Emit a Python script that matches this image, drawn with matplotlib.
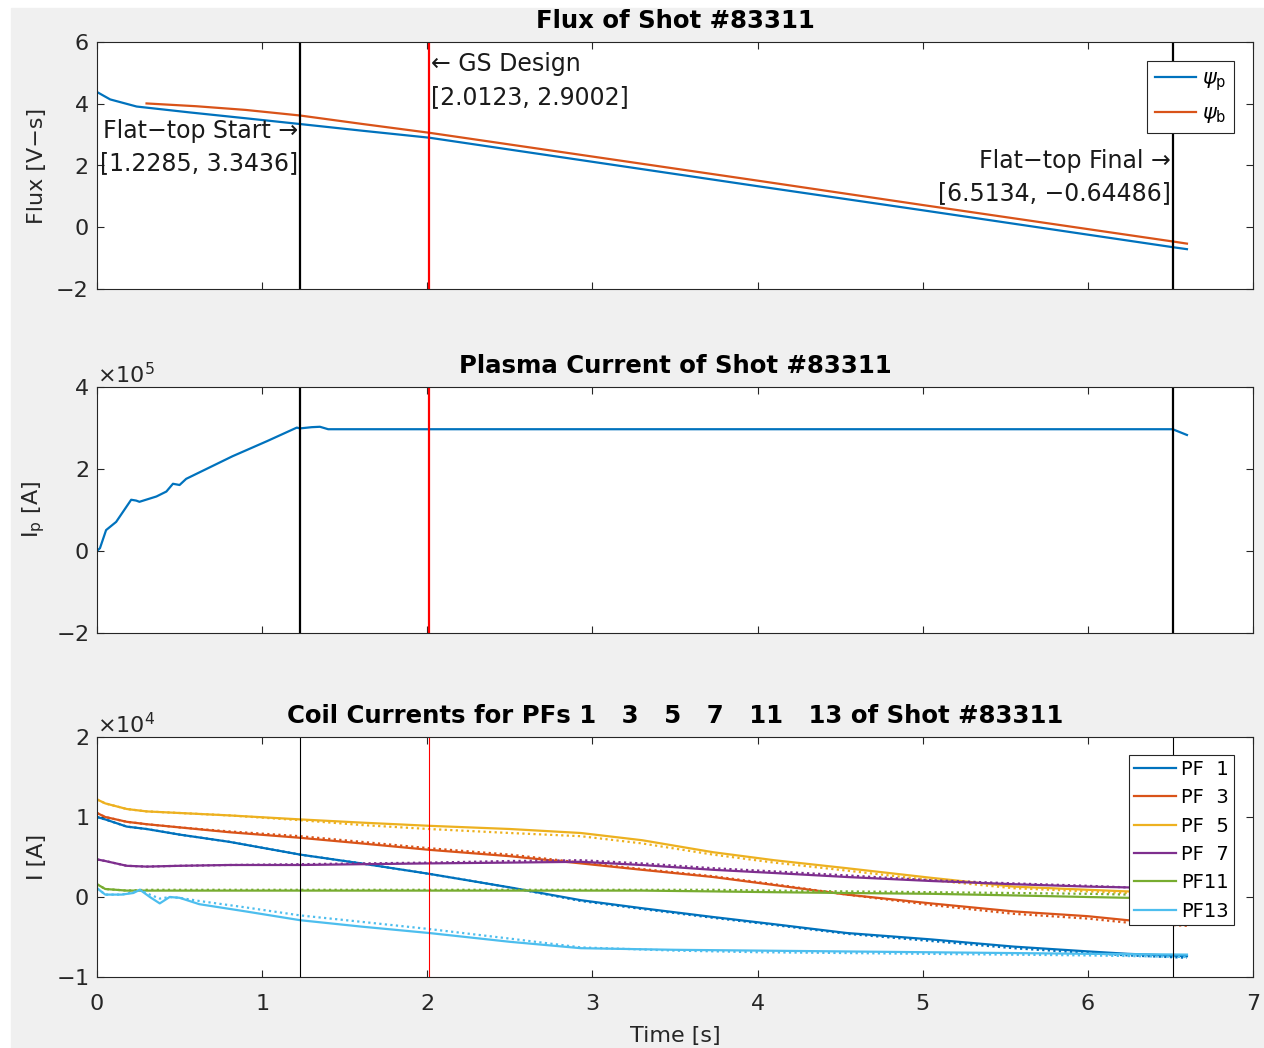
import numpy as np
import matplotlib
matplotlib.use("Agg")
import matplotlib.pyplot as plt
from matplotlib.patches import Rectangle
from matplotlib.ticker import ScalarFormatter

# ---- data -------------------------------------------------------------
shot = "83311"

t_flat_start, psi_flat_start = 1.2285, 3.3436
t_gs, psi_gs = 2.0123, 2.9002
t_flat_end, psi_flat_end = 6.5134, -0.64486

# poloidal flux [V-s]
t_psi_p = [0.0, 0.08, 0.24, 0.56, 0.9, 1.2285, 1.6, 2.0123, 3.0, 4.0, 5.0, 6.0, 6.5134, 6.6]
psi_p = [4.38, 4.14, 3.91, 3.72, 3.53, 3.3436, 3.13, 2.9002, 2.12, 1.33, 0.55, -0.24, -0.64486, -0.71]

t_psi_b = [0.3, 0.6, 0.9, 1.2285, 1.6, 2.0123, 3.0, 4.0, 5.0, 6.0, 6.5134, 6.6]
psi_b = [4.01, 3.92, 3.80, 3.62, 3.35, 3.06, 2.29, 1.51, 0.72, -0.06, -0.46, -0.53]

# plasma current [A]
t_ip = [0.0, 0.018, 0.055, 0.116, 0.207, 0.237, 0.257, 0.36, 0.42, 0.46, 0.50, 0.54,
        0.82, 1.03, 1.21, 1.2285, 1.3, 1.35, 1.4, 6.5134, 6.6]
ip = [0.0, 0.07e5, 0.51e5, 0.71e5, 1.25e5, 1.23e5, 1.20e5, 1.33e5, 1.45e5, 1.64e5, 1.61e5, 1.76e5,
      2.31e5, 2.68e5, 3.01e5, 2.99e5, 3.02e5, 3.03e5, 2.97e5, 2.97e5, 2.83e5]

# coil currents [x1e4 A]: measured (solid) and requested (dotted)
t_coil = [0, 0.05, 0.18, 0.3, 0.5, 0.8, 1.23, 1.6, 2.01, 2.5, 2.93, 3.3, 3.73, 4.1,
          4.54, 5.05, 5.55, 6.0, 6.24, 6.6]
pf1 = [1.0, 0.97, 0.88, 0.85, 0.78, 0.69, 0.53, 0.42, 0.29, 0.12, -0.04, -0.14, -0.25, -0.34,
       -0.45, -0.53, -0.62, -0.68, -0.71, -0.74]
pf1_ref = [1.0, 0.97, 0.88, 0.85, 0.78, 0.69, 0.53, 0.42, 0.29, 0.12, -0.05, -0.15, -0.26, -0.35,
           -0.46, -0.55, -0.64, -0.70, -0.73, -0.76]
pf3 = [1.05, 1.0, 0.94, 0.91, 0.87, 0.81, 0.74, 0.67, 0.59, 0.51, 0.42, 0.34, 0.25, 0.15,
       0.03, -0.08, -0.18, -0.24, -0.29, -0.33]
pf3_ref = [1.05, 1.0, 0.94, 0.91, 0.87, 0.82, 0.76, 0.69, 0.61, 0.53, 0.43, 0.35, 0.26, 0.16,
           0.03, -0.10, -0.21, -0.27, -0.32, -0.36]
pf5 = [1.22, 1.17, 1.10, 1.07, 1.05, 1.02, 0.97, 0.93, 0.89, 0.85, 0.80, 0.71, 0.56, 0.46,
       0.36, 0.24, 0.13, 0.09, 0.07, 0.03]
pf5_ref = [1.22, 1.17, 1.10, 1.07, 1.05, 1.02, 0.96, 0.90, 0.85, 0.80, 0.76, 0.67, 0.53, 0.43,
           0.33, 0.21, 0.11, 0.07, 0.05, 0.01]
pf7 = [0.47, 0.45, 0.39, 0.38, 0.39, 0.40, 0.40, 0.41, 0.42, 0.43, 0.44, 0.40, 0.34, 0.30,
       0.25, 0.20, 0.16, 0.13, 0.12, 0.10]
pf7_ref = [0.47, 0.45, 0.39, 0.38, 0.39, 0.40, 0.41, 0.42, 0.43, 0.45, 0.46, 0.42, 0.36, 0.32,
           0.27, 0.21, 0.17, 0.14, 0.12, 0.10]
pf11 = [0.16, 0.10, 0.08, 0.08, 0.08, 0.08, 0.08, 0.08, 0.08, 0.08, 0.08, 0.08, 0.07, 0.06,
        0.05, 0.04, 0.02, 0.0, -0.01, -0.02]
pf11_ref = [0.16, 0.10, 0.08, 0.09, 0.09, 0.09, 0.09, 0.09, 0.09, 0.09, 0.09, 0.09, 0.09, 0.08,
            0.07, 0.06, 0.05, 0.04, 0.03, 0.02]
t_pf13 = [0, 0.05, 0.15, 0.22, 0.26, 0.32, 0.38, 0.44, 0.5, 0.62, 0.9, 1.23, 1.6, 2.01, 2.5,
          2.93, 3.5, 4.0, 4.5, 5.0, 5.5, 6.0, 6.6]
pf13 = [0.11, 0.03, 0.03, 0.05, 0.09, 0.0, -0.08, 0.0, -0.01, -0.09, -0.18, -0.29, -0.37, -0.45,
        -0.56, -0.64, -0.66, -0.67, -0.68, -0.69, -0.70, -0.71, -0.72]
pf13_ref = [0.11, 0.03, 0.03, 0.06, 0.09, 0.03, -0.02, 0.0, -0.01, -0.05, -0.13, -0.23, -0.31,
            -0.40, -0.52, -0.63, -0.67, -0.69, -0.70, -0.71, -0.72, -0.73, -0.75]

coil_names = ["PF  1", "PF  3", "PF  5", "PF  7", "PF11", "PF13"]
coil_ids = [1, 3, 5, 7, 11, 13]

# ---- style ------------------------------------------------------------
C_BLUE, C_ORANGE, C_YELLOW = "#0072BD", "#D95319", "#EDB120"
C_PURPLE, C_GREEN, C_CYAN = "#7E2F8E", "#77AC30", "#4DBEEE"
AX_COL = "#262626"
FS = 16
FS_TITLE = 17.6
FS_NOTE = 17

plt.rcParams.update({
    "font.family": ["DejaVu Sans"],
    "font.size": FS,
    "axes.edgecolor": AX_COL,
    "axes.linewidth": 0.8,
    "xtick.color": AX_COL,
    "ytick.color": AX_COL,
    "xtick.labelcolor": AX_COL,
    "ytick.labelcolor": AX_COL,
    "xtick.direction": "in",
    "ytick.direction": "in",
    "xtick.top": True,
    "ytick.right": True,
    "xtick.major.size": 5,
    "ytick.major.size": 5,
    "xtick.major.width": 0.8,
    "ytick.major.width": 0.8,
    "xtick.labelsize": FS,
    "ytick.labelsize": FS,
    "axes.titlesize": FS_TITLE,
    "axes.titleweight": "bold",
    "axes.titlepad": 10,
})

W, H = 1264, 1048
fig = plt.figure(figsize=(W / 100, H / 100), dpi=100, facecolor="white")
fig.patches.append(Rectangle((11 / W, 0), 1 - 11 / W, (H - 8) / H,
                             transform=fig.transFigure, color="#f0f0f0", zorder=-10))


def axes_box(top_px, bottom_px):
    left, right = 97, 1253
    return [left / W, 1 - bottom_px / H, (right - left) / W, (bottom_px - top_px) / H]


ax1 = fig.add_axes(axes_box(42, 289))
ax2 = fig.add_axes(axes_box(387, 633))
ax3 = fig.add_axes(axes_box(737, 977))

for ax in (ax1, ax2, ax3):
    ax.set_xlim(0, 7)
    ax.set_xticks(range(0, 8))
    ax.tick_params(axis="y", pad=6)
    ax.tick_params(axis="x", pad=12)
for ax in (ax1, ax2):
    ax.tick_params(labelbottom=False)

ylabel_x = -0.043

# ---- flux -------------------------------------------------------------
ax1.plot(t_psi_p, psi_p, color=C_BLUE, lw=1.6, label=r"$\psi_{\rm p}$")
ax1.plot(t_psi_b, psi_b, color=C_ORANGE, lw=1.6, label=r"$\psi_{\rm b}$")
ax1.axvline(t_flat_start, color="black", lw=1.6)
ax1.axvline(t_gs, color="red", lw=1.6)
ax1.axvline(t_flat_end, color="black", lw=1.6)
ax1.set_ylim(-2, 6)
ax1.set_yticks([-2, 0, 2, 4, 6])
ax1.set_ylabel("Flux [V\u2212s]", color=AX_COL)
ax1.yaxis.set_label_coords(ylabel_x, 0.5)
ax1.set_title(f"Flux of Shot #{shot}")

ann = dict(fontsize=FS_NOTE, color="#1a1a1a", linespacing=1.45, va="center")
ax1.text(t_flat_start - 0.01, 2.60,
         f"Flat\u2212top Start \u2192\n[{t_flat_start}, {psi_flat_start}]",
         ha="right", multialignment="right", **ann)
ax1.text(t_gs + 0.01, 4.75,
         f"\u2190 GS Design\n[{t_gs}, {psi_gs}]",
         ha="left", multialignment="left", **ann)
ax1.text(t_flat_end - 0.01, 1.63,
         f"Flat\u2212top Final \u2192\n[{t_flat_end}, \u2212{abs(psi_flat_end)}]",
         ha="right", multialignment="right", **ann)

leg1 = ax1.legend(loc="upper right", bbox_to_anchor=(0.9836, 0.923), borderaxespad=0,
                  fontsize=15, handlelength=2.0, handletextpad=0.3, labelspacing=0.5,
                  borderpad=0.35, fancybox=False, framealpha=1, edgecolor=AX_COL)
leg1.get_frame().set_linewidth(0.8)

# ---- plasma current ---------------------------------------------------
ax2.plot(t_ip, ip, color=C_BLUE, lw=1.6)
ax2.axvline(t_flat_start, color="black", lw=1.6)
ax2.axvline(t_gs, color="red", lw=1.6)
ax2.axvline(t_flat_end, color="black", lw=1.6)
ax2.set_ylim(-2e5, 4e5)
ax2.set_yticks([-2e5, 0, 2e5, 4e5])
ax2.set_ylabel(r"I$_{\rm p}$ [A]", color=AX_COL)
ax2.yaxis.set_label_coords(ylabel_x, 0.5)
ax2.set_title(f"Plasma Current of Shot #{shot}")

# ---- coil currents ----------------------------------------------------
coil_series = [
    (t_coil, pf1, pf1_ref, C_BLUE),
    (t_coil, pf3, pf3_ref, C_ORANGE),
    (t_coil, pf5, pf5_ref, C_YELLOW),
    (t_coil, pf7, pf7_ref, C_PURPLE),
    (t_coil, pf11, pf11_ref, C_GREEN),
    (t_pf13, pf13, pf13_ref, C_CYAN),
]
handles = []
for (tt, meas, ref, col), name in zip(coil_series, coil_names):
    h, = ax3.plot(tt, np.asarray(meas) * 1e4, color=col, lw=1.6, label=name)
    ax3.plot(tt, np.asarray(ref) * 1e4, color=col, lw=1.6, ls=(0, (1, 1.5)))
    handles.append(h)
ax3.axvline(t_flat_start, color="black", lw=0.8)
ax3.axvline(t_gs, color="red", lw=0.8)
ax3.axvline(t_flat_end, color="black", lw=0.8)
ax3.set_ylim(-1e4, 2e4)
ax3.set_yticks([-1e4, 0, 1e4, 2e4])
ax3.set_ylabel("I [A]", color=AX_COL)
ax3.yaxis.set_label_coords(ylabel_x, 0.5)
ax3.set_xlabel("Time [s]", color=AX_COL, labelpad=9)
ax3.set_title("Coil Currents for PFs " + "   ".join(str(c) for c in coil_ids)
              + f" of Shot #{shot}")

leg3 = ax3.legend(handles=handles, loc="upper right", bbox_to_anchor=(0.9836, 0.925),
                  borderaxespad=0, fontsize=14, handlelength=2.2, handletextpad=0.25,
                  labelspacing=0.48, borderpad=0.25, fancybox=False, framealpha=1,
                  edgecolor=AX_COL)
leg3.get_frame().set_linewidth(0.8)

for ax in (ax2, ax3):
    fmt = ScalarFormatter(useMathText=True)
    fmt.set_powerlimits((0, 0))
    ax.yaxis.set_major_formatter(fmt)
    ax.yaxis.get_offset_text().set_fontsize(FS)
    ax.yaxis.get_offset_text().set_color(AX_COL)

fig.savefig("out.png", dpi=100, facecolor=fig.get_facecolor())
